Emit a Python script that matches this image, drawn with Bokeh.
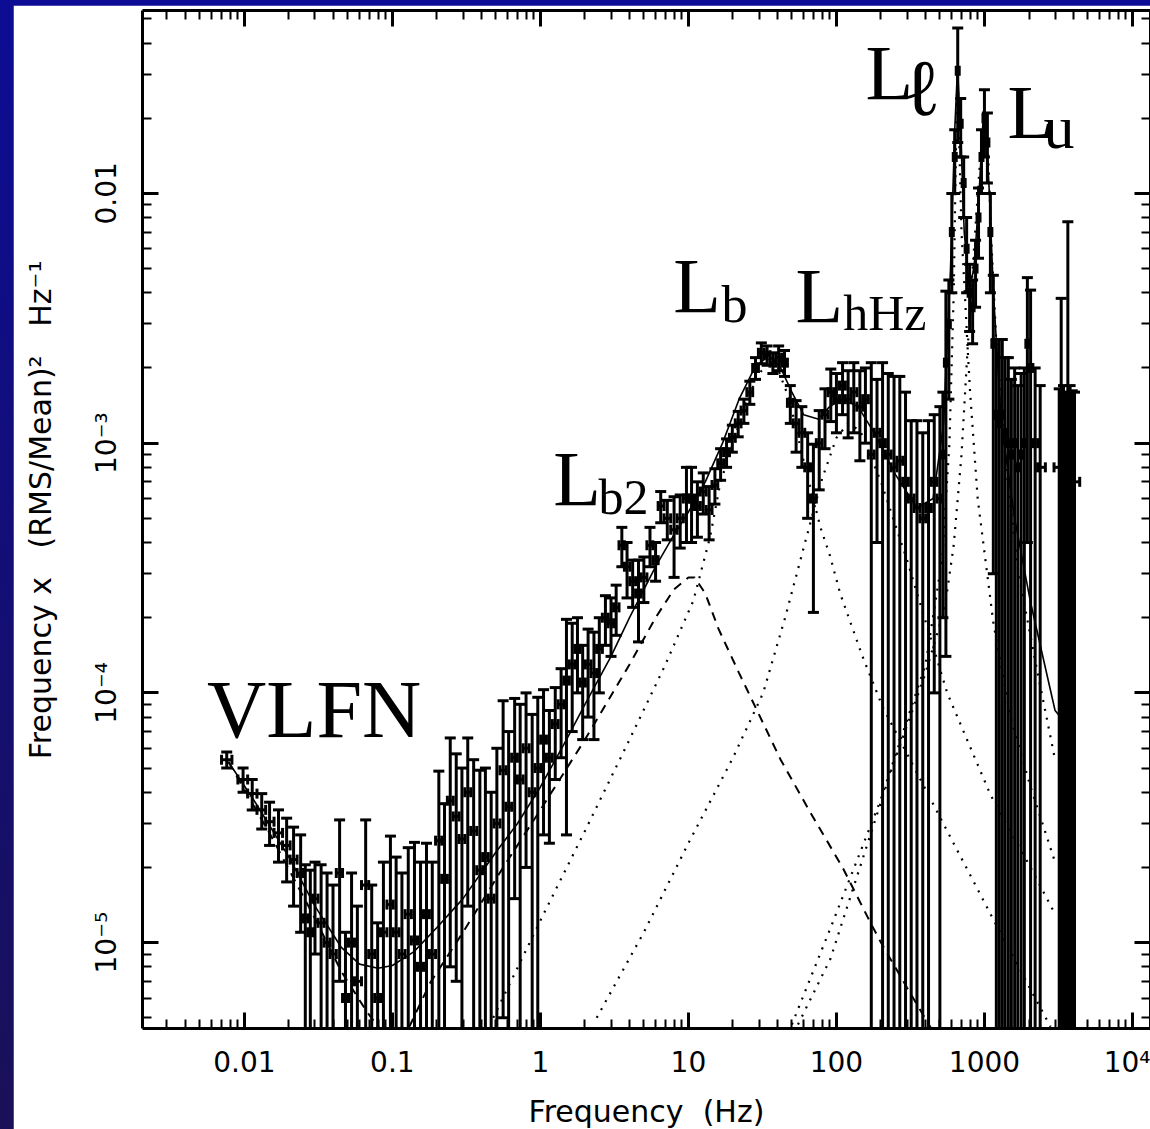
import numpy as np
from bokeh.plotting import figure
from bokeh.models import FixedTicker, CustomJSTickFormatter, LogAxis, Label, ColumnDataSource
from bokeh.layouts import column
from bokeh.embed import file_html
from bokeh.resources import INLINE

# ---------------- data: power spectrum (frequency [Hz], nu*P, 1-sigma error) ----------------
freq = [0.0076, 0.0098, 0.0113, 0.0131, 0.0148, 0.0170, 0.0193, 0.0215, 0.0240,
        0.0258, 0.0279, 0.0300, 0.0330, 0.0362, 0.0397, 0.0440, 0.0482, 0.0530, 0.0580,
        0.0660, 0.0725, 0.0795, 0.0870, 0.0970, 0.1060, 0.1160, 0.1280, 0.1410, 0.1550,
        0.1700, 0.1860, 0.2060, 0.2250, 0.2460, 0.2700, 0.2950, 0.3230, 0.3540, 0.3900,
        0.4250, 0.4650, 0.5080, 0.5600, 0.6100, 0.6700, 0.7300, 0.8000, 0.8800, 0.9600,
        1.05, 1.15, 1.26, 1.38, 1.50, 1.64, 1.78, 1.93, 2.10, 2.30, 2.50, 2.75, 3.00, 3.25,
        3.55, 3.85, 4.20, 4.60, 5.00, 5.50, 6.00, 6.50, 7.20, 8.00, 8.80, 9.70,
        10.5, 11.5, 12.6, 13.8, 15.1, 16.5, 18.1, 19.8, 21.7, 23.7, 26.0, 28.4, 31.1, 34.0,
        37.2, 40.7, 44.6, 48.8, 53.4, 58.4, 63.9, 69.9, 76.5, 83.7, 91.6, 100, 110, 120,
        131, 144, 157, 172, 188, 205, 224, 245, 268, 293, 320, 350, 383, 419, 458, 500,
        524, 549, 575, 602, 630, 660, 691, 724, 758, 794, 832, 871, 912, 955, 1000, 1047,
        1097, 1148, 1203, 1260, 1320, 1380, 1450, 1520, 1600, 1680, 1770, 1860, 1950, 2050,
        2200, 2380, 3200, 3300, 3420, 3540, 3660, 3790, 3920, 4060]
power = [5.4e-5, 4.5e-5, 3.95e-5, 3.4e-5, 3.05e-5, 2.75e-5, 2.45e-5, 2.15e-5, 1.9e-5,
         1.25e-5, 1.1e-5, 1.5e-5, 1.2e-5, 1.0e-5, 0.9e-5, 1.9e-5, 0.6e-5, 1.0e-5, 0.7e-5,
         1.7e-5, 0.9e-5, 0.6e-5, 1.1e-5, 1.42e-5, 1.1e-5, 0.9e-5, 1.3e-5, 1.02e-5, 0.8e-5,
         1.3e-5, 0.9e-5, 2.56e-5, 1.8e-5, 3.7e-5, 3.2e-5, 2.6e-5, 4.0e-5, 2.8e-5, 1.95e-5,
         2.2e-5, 1.5e-5, 3.0e-5, 4.9e-5, 3.5e-5, 5.5e-5, 4.5e-5, 6.0e-5, 4.0e-5, 5.0e-5,
         6.5e-5, 5.5e-5, 7.5e-5, 9.0e-5, 1.12e-4, 1.3e-4, 1.5e-4, 1.1e-4, 1.3e-4, 1.2e-4, 1.5e-4, 2.0e-4, 1.9e-4, 2.2e-4,
         3.9e-4, 3.2e-4, 2.8e-4, 2.5e-4, 2.9e-4, 3.9e-4, 3.4e-4, 5.6e-4, 5.0e-4, 4.5e-4, 5.0e-4, 6.0e-4,
         6.0e-4, 5.6e-4, 6.4e-4, 5.4e-4, 6.8e-4, 8.3e-4, 9.2e-4, 1.05e-3, 1.2e-3, 1.35e-3, 1.6e-3, 2.0e-3, 2.3e-3, 2.25e-3,
         2.1e-3, 2.2e-3, 2.1e-3, 1.45e-3, 1.2e-3, 1.1e-3, 8.0e-4, 6.0e-4, 1.0e-3, 1.3e-3, 1.6e-3, 1.5e-3, 1.7e-3, 1.5e-3,
         1.6e-3, 1.4e-3, 1.5e-3, 9.0e-4, 1.1e-3, 1.0e-3, 9.0e-4, 8.0e-4, 8.5e-4, 7.0e-4, 6.0e-4, 5.5e-4, 5.0e-4, 5.5e-4, 7.0e-4, 6.0e-4,
         9.0e-4, 2.1e-3, 3.0e-3, 7.0e-3, 1.4e-2, 3.1e-2, 1.9e-2, 1.1e-2, 6.0e-3, 4.0e-3, 3.5e-3, 5.0e-3, 8.0e-3, 1.4e-2, 2.0e-2, 1.6e-2,
         7.0e-3, 2.5e-3, 1.3e-3, 1.2e-3, 1.3e-3, 1.1e-3, 1.0e-3, 0.9e-3, 1.0e-3, 0.8e-3, 0.9e-3, 1.0e-3, 2.5e-3, 2.0e-3,
         1.0e-3, 0.8e-3, 8.0e-4, 8.0e-4, 8.5e-4, 7.5e-4, 8.0e-4, 8.5e-4, 8.0e-4, 7.0e-4]
error = [0.4e-5, 0.5e-5, 0.55e-5, 0.55e-5, 0.6e-5, 0.65e-5, 0.7e-5, 0.75e-5, 0.8e-5,
         0.8e-5, 0.85e-5, 0.6e-5, 0.85e-5, 0.9e-5, 0.8e-5, 1.2e-5, 0.5e-5, 0.9e-5, 0.7e-5,
         1.4e-5, 0.8e-5, 0.6e-5, 1.0e-5, 1.25e-5, 1.1e-5, 1.0e-5, 1.1e-5, 1.5e-5, 1.3e-5,
         1.2e-5, 1.2e-5, 2.3e-5, 1.8e-5, 2.9e-5, 2.5e-5, 2.4e-5, 2.6e-5, 2.6e-5, 2.95e-5,
         2.8e-5, 2.5e-5, 3.0e-5, 4.4e-5, 3.5e-5, 4.0e-5, 4.5e-5, 4.0e-5, 4.2e-5, 4.6e-5,
         3.8e-5, 3.0e-5, 3.0e-5, 3.5e-5, 8.5e-5, 6.0e-5, 5.0e-5, 4.5e-5, 5.0e-5, 5.5e-5, 5.0e-5, 4.5e-5, 5.0e-5, 5.0e-5,
         7.0e-5, 8.0e-5, 6.0e-5, 9.0e-5, 6.0e-5, 7.0e-5, 6.0e-5, 8.0e-5, 9.0e-5, 1.6e-4, 1.2e-4, 2.0e-4,
         2.0e-4, 1.4e-4, 1.2e-4, 1.3e-4, 1.1e-4, 1.2e-4, 1.2e-4, 1.3e-4, 1.4e-4, 1.5e-4, 1.7e-4, 2.0e-4, 2.2e-4, 2.0e-4,
         2.0e-4, 2.5e-4, 2.5e-4, 2.5e-4, 2.8e-4, 3.0e-4, 3.0e-4, 3.9e-4, 3.5e-4, 3.5e-4, 3.8e-4, 4.0e-4, 4.0e-4, 4.5e-4,
         5.0e-4, 5.5e-4, 5.0e-4, 1.2e-3, 7.0e-4, 1.1e-3, 1.0e-3, 1.05e-3, 1.0e-3, 9.0e-4, 6.3e-4, 6.8e-4, 6.0e-4, 6.8e-4, 6.0e-4, 8.0e-4,
         7.0e-4, 1.96e-3, 1.5e-3, 3.0e-3, 4.0e-3, 1.5e-2, 5.0e-3, 3.0e-3, 2.0e-3, 1.2e-3, 1.0e-3, 1.5e-3, 2.5e-3, 4.0e-3, 6.0e-3, 5.0e-3,
         3.0e-3, 2.2e-3, 1.3e-3, 1.4e-3, 1.3e-3, 1.1e-3, 1.2e-3, 0.9e-3, 1.0e-3, 0.9e-3, 1.0e-3, 1.0e-3, 2.1e-3, 2.1e-3,
         1.0e-3, 0.9e-3, 8.5e-4, 3.0e-3, 8.5e-4, 8.5e-4, 6.9e-3, 8.5e-4, 8.2e-4, 9.0e-4]

# ---------------- model curves ----------------
total_f = [0.0078, 0.012, 0.02, 0.03, 0.045, 0.06, 0.08, 0.1, 0.14, 0.2, 0.3, 0.5, 0.7, 1.0, 1.5, 2.0,
           3.0, 4.0, 6.0, 8.0, 10, 13, 17, 22, 28, 35, 42, 50, 60, 75, 90, 110, 140, 180, 250, 350,
           450, 530, 590, 630, 658, 690, 730, 790, 850, 920, 980, 1020, 1080, 1150, 1300, 1600, 2050,
           3000, 3260]
total_p = [5.3e-5, 3.6e-5, 2.2e-5, 1.4e-5, 9.6e-6, 8.2e-6, 7.9e-6, 8.1e-6, 9.2e-6, 1.15e-5, 1.5e-5,
           2.3e-5, 3.0e-5, 4.2e-5, 6.5e-5, 9.0e-5, 1.4e-4, 2.0e-4, 3.2e-4, 4.3e-4, 5.3e-4, 7.0e-4,
           1.0e-3, 1.5e-3, 2.0e-3, 2.25e-3, 2.0e-3, 1.6e-3, 1.3e-3, 1.25e-3, 1.4e-3, 1.5e-3, 1.4e-3,
           1.1e-3, 7.5e-4, 5.5e-4, 6.0e-4, 1.2e-3, 5.0e-3, 1.8e-2, 3.2e-2, 1.8e-2, 7.0e-3, 4.2e-3,
           5.0e-3, 1.0e-2, 2.0e-2, 1.9e-2, 1.0e-2, 4.0e-3, 1.2e-3, 5.0e-4, 2.3e-4, 8.5e-5, 8.0e-5]

vlfn_f = [0.0078, 0.015, 0.03, 0.045, 0.067, 0.09]
vlfn_p = [5.3e-5, 2.7e-5, 1.25e-5, 7.7e-6, 5.3e-6, 4.2e-6]

lb2_f = [0.13, 0.18, 0.3, 0.56, 1.0, 2.0, 4.0, 6.0, 8.0, 10, 11, 13, 16, 22, 42, 67, 110, 170, 200, 300, 440]
lb2_p = [4.6e-6, 6.9e-6, 1.1e-5, 2.0e-5, 3.4e-5, 6.5e-5, 1.3e-4, 2.0e-4, 2.6e-4, 2.9e-4, 2.9e-4,
         2.5e-4, 1.8e-4, 1.2e-4, 5.4e-5, 3.3e-5, 2.0e-5, 1.2e-5, 1.0e-5, 6.6e-6, 4.5e-6]

lb_f = [0.48, 1.05, 2.0, 4.0, 7.0, 10.8, 14, 16.4, 20, 25, 30, 35, 40, 48, 60, 78, 91, 106, 150, 205,
        560, 1100, 2200, 2800]
lb_p = [5.0e-6, 1.3e-5, 2.8e-5, 6.5e-5, 1.3e-4, 2.34e-4, 4.2e-4, 6.9e-4, 1.0e-3, 1.5e-3, 1.9e-3,
        2.1e-3, 2.0e-3, 1.5e-3, 8.5e-4, 4.6e-4, 3.5e-4, 2.5e-4, 1.4e-4, 8.8e-5, 2.8e-5, 1.3e-5,
        6.0e-6, 4.6e-6]

lhhz_f = [2.4, 5, 10, 20, 32, 45, 60, 80, 100, 120, 145, 200, 300, 560, 1100, 2050, 3000]
lhhz_p = [5.0e-6, 1.1e-5, 2.5e-5, 5.5e-5, 1.0e-4, 2.0e-4, 3.8e-4, 7.2e-4, 1.05e-3, 1.2e-3, 1.12e-3,
          7.0e-4, 3.4e-4, 1.0e-4, 3.9e-5, 2.0e-5, 1.3e-5]

ll_f = [50, 91, 198, 400, 520, 580, 620, 645, 658, 672, 700, 740, 770, 800, 900, 1150, 1500, 2050,
        3000]
ll_p = [4.7e-6, 1.14e-5, 3.7e-5, 1.3e-4, 3.5e-4, 1.0e-3, 4.0e-3, 1.8e-2, 3.2e-2, 1.8e-2, 7.0e-3,
        3.8e-3, 2.4e-3, 1.6e-3, 6.0e-4, 1.9e-4, 8.0e-5, 4.2e-5, 2.1e-5]

lu_f = [55, 91, 232, 400, 540, 620, 700, 770, 850, 930, 1000, 1060, 1120, 1200, 1400, 1700, 2200,
        3000]
lu_p = [4.7e-6, 8.6e-6, 4.8e-5, 1.2e-4, 2.2e-4, 3.9e-4, 9.0e-4, 2.4e-3, 6.0e-3, 1.3e-2, 2.1e-2,
        1.4e-2, 6.0e-3, 2.6e-3, 8.0e-4, 3.0e-4, 1.35e-4, 5.4e-5]

x_ticks = [0.01, 0.1, 1, 10, 100, 1000, 10000]
y_ticks = [1e-5, 1e-4, 1e-3, 1e-2]

# ---------------- figure ----------------
XR = (0.00205, 13240)
YR = (4.53e-6, 0.054)
PX_PER_DEC_Y = 1018 / np.log10(YR[1] / YR[0])
p = figure(x_axis_type="log", y_axis_type="log", x_range=XR, y_range=YR,
           frame_width=1008, frame_height=1018,
           min_border_left=129, min_border_right=0, min_border_top=5, min_border_bottom=101,
           output_backend="svg", toolbar_location=None,
           background_fill_color="white", border_fill_color="white", outline_line_color=None)
p.xgrid.visible = False
p.ygrid.visible = False

def minors(lo_e, hi_e, lo, hi):
    out = []
    for e in range(lo_e, hi_e + 1):
        for k in range(2, 10):
            v = k * 10.0 ** e
            if lo < v < hi:
                out.append(v)
    return out

x_minor = minors(-3, 4, XR[0], XR[1])
y_minor = minors(-6, -2, YR[0], YR[1])

xfmt = CustomJSTickFormatter(code="""
const e = Math.round(Math.log10(tick));
if (e >= 4) return "10\u2074";
if (e >= 0) return String(Math.round(tick));
return tick.toFixed(-e);
""")
yfmt = CustomJSTickFormatter(code="""
const e = Math.round(Math.log10(tick));
if (e == -2) return "0.01";
const sup = {"-3": "\u207b\u00b3", "-4": "\u207b\u2074", "-5": "\u207b\u2075"};
return "10" + sup[String(e)];
""")
blank = CustomJSTickFormatter(code="return '';")

def style(ax, ticks, minor_ticks):
    ax.ticker = FixedTicker(ticks=ticks, minor_ticks=minor_ticks)
    ax.axis_line_width = 3
    ax.axis_line_color = "black"
    ax.major_tick_in = 16
    ax.major_tick_out = 0
    ax.minor_tick_in = 9
    ax.minor_tick_out = 0
    ax.major_tick_line_width = 3
    ax.minor_tick_line_width = 2
    ax.major_tick_line_color = "black"
    ax.minor_tick_line_color = "black"
    ax.major_label_text_font = "DejaVu Sans"
    ax.major_label_text_font_size = "28px"
    ax.major_label_text_color = "black"
    ax.axis_label_text_font = "DejaVu Sans"
    ax.axis_label_text_font_size = "30px"
    ax.axis_label_text_font_style = "normal"
    ax.axis_label_text_color = "black"

NB = "\u00a0"
xa = p.xaxis[0]
style(xa, x_ticks, x_minor)
xa.formatter = xfmt
xa.major_label_standoff = 17
xa.axis_label = "Frequency" + NB + " (Hz)"
xa.axis_label_standoff = 12

ya = p.yaxis[0]
style(ya, y_ticks, y_minor)
ya.formatter = yfmt
ya.major_label_orientation = "vertical"
ya.major_label_standoff = 19
ya.axis_label = NB + NB + "Frequency x" + NB + NB + " (RMS/Mean)\u00b2" + NB + NB + " Hz\u207b\u00b9"
ya.axis_label_standoff = 30

top = LogAxis()
style(top, x_ticks, x_minor)
top.formatter = blank
top.major_label_standoff = 0
p.add_layout(top, "above")

right = LogAxis()
style(right, y_ticks, y_minor)
right.formatter = blank
right.major_label_standoff = 0
p.add_layout(right, "right")

# ---------------- data glyphs ----------------
f = np.array(freq)
pw = np.array(power)
er = np.array(error)
lf = np.log10(f)
mid = (lf[1:] + lf[:-1]) / 2
left = np.concatenate([[lf[0] - 0.035], mid])
rightb = np.concatenate([mid, [lf[-1] + 0.035]])
left = np.maximum(left, lf - 0.035)
rightb = np.minimum(rightb, lf + 0.035)
lo_edge = 10 ** left
hi_edge = 10 ** rightb
top_v = pw + er
bot_v = pw - er
has_bot = bot_v > YR[0]
bot_draw = np.where(has_bot, bot_v, 1e-8)

LW = 3.0
src = ColumnDataSource(dict(f=f, p=pw, lo=lo_edge, hi=hi_edge, top=top_v, bot=bot_draw))
p.segment(x0="lo", y0="p", x1="hi", y1="p", source=src, line_width=LW, color="black")
p.segment(x0="f", y0="bot", x1="f", y1="top", source=src, line_width=LW, color="black")
p.scatter(x="f", y="top", source=src, marker="dash", size=11, line_width=LW, color="black")
p.scatter(x=f[has_bot], y=bot_v[has_bot], marker="dash", size=11, line_width=LW, color="black")
p.scatter(x="lo", y="p", source=src, marker="dash", angle=np.pi / 2, size=10, line_width=LW, color="black")
p.scatter(x="hi", y="p", source=src, marker="dash", angle=np.pi / 2, size=10, line_width=LW, color="black")

# ---------------- model lines ----------------
p.line(total_f, total_p, line_width=1.6, color="black")
p.line(vlfn_f, vlfn_p, line_width=2, color="black", line_dash="9 7")
p.line(lb2_f, lb2_p, line_width=2, color="black", line_dash="9 7")
p.line(lb_f, lb_p, line_width=2.2, color="black", line_dash="2 7")
p.line(lhhz_f, lhhz_p, line_width=2.2, color="black", line_dash="2 7")
p.line(ll_f, ll_p, line_width=2.2, color="black", line_dash="2 7")
p.line(lu_f, lu_p, line_width=2.2, color="black", line_dash="2 7")

# ---------------- component labels ----------------
SERIF = "Liberation Serif"
def lab(x, y, t, size):
    # y is the wanted baseline; lift by the renderer's baseline offset (~0.35 em)
    yy = y * 10 ** (0.35 * size / PX_PER_DEC_Y)
    p.add_layout(Label(x=x, y=yy, text=t, text_font=SERIF, text_font_size=f"{size}px",
                       text_color="black", text_align="left", text_baseline="alphabetic"))

lab(0.0056, 6.6e-5, "VLFN", 82)
lab(1.22, 5.6e-4, "L", 78)
lab(2.47, 5.2e-4, "b2", 50)
lab(7.9, 3.33e-3, "L", 78)
lab(16.7, 3.04e-3, "b", 52)
lab(52.8, 3.04e-3, "L", 78)
lab(111, 2.83e-3, "hHz", 50)
lab(157, 0.0236, "L", 78)
lab(279, 0.0205, "\u2113", 80)
lab(1429, 0.0166, "L", 76)
lab(2506, 0.0151, "u", 62)

layout = column(p, styles={"background": "linear-gradient(to bottom, #0c0c94, #1a1058)",
                           "padding-left": "13px", "padding-top": "5px"})

open("out.html", "w").write(file_html(layout, INLINE))
